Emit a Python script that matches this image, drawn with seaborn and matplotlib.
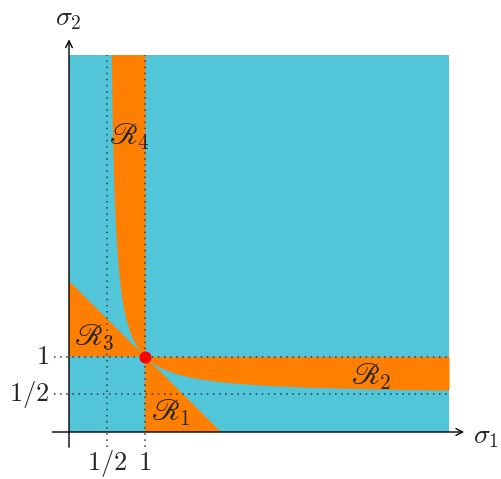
import numpy as np
import matplotlib
matplotlib.use("Agg")
import matplotlib.pyplot as plt
import seaborn as sns
import pandas as pd

sns.set_theme(style="white")
plt.rcParams["mathtext.fontset"] = "cm"
plt.rcParams["font.family"] = ["DejaVu Sans"]

# Domain of the (sigma1, sigma2) plane that is shown
extent = 5.0
# Reference levels marked with dotted guides
guide_values = [0.5, 1.0]
guide_labels = ["$1/2$", "$1$"]
# The critical point
critical_x = [1.0]
critical_y = [1.0]
# Region names
region_names = [r"$\mathscr{R}_1$", r"$\mathscr{R}_2$", r"$\mathscr{R}_3$", r"$\mathscr{R}_4$"]

cyan = "#52C5D8"
orange = "#FF8000"

fig = plt.figure(figsize=(5.01, 4.79), dpi=100)
ax = fig.add_axes([0, 0, 1, 1])
ax.set_xlim(-69 / 76, (501 - 69) / 76)
ax.set_ylim(-47 / 75.5, 432 / 75.5)
ax.axis("off")

# background square
ax.fill_between([0, extent], 0, extent, color=cyan, lw=0, zorder=1)

# R1: x >= 1, y >= 0, x + y <= 2
ax.fill([1, 2, 1], [0, 0, 1], color=orange, lw=0, zorder=2)
# R3: x >= 0, y >= 1, x + y <= 2
ax.fill([0, 1, 0], [1, 1, 2], color=orange, lw=0, zorder=2)
# R2: x >= 1, x/(2x-1) <= y <= 1
s = np.linspace(1, extent, 400)
ax.fill_between(s, s / (2 * s - 1), 1, color=orange, lw=0, zorder=2)
# R4: y >= 1, y/(2y-1) <= x <= 1
ax.fill_betweenx(s, s / (2 * s - 1), 1, color=orange, lw=0, zorder=2)

# dotted guides
for v in guide_values:
    ax.plot([v, v], [-0.2, extent], ls=(0, (1, 3)), color="#2a3d45", lw=1.1, zorder=3)
    ax.plot([-0.2, extent], [v, v], ls=(0, (1, 3)), color="#2a3d45", lw=1.1, zorder=3)

# axes with arrows
ax.annotate("", xy=(5.2, 0), xytext=(-0.22, 0),
            arrowprops=dict(arrowstyle="->", lw=1.0, color="black", shrinkA=0, shrinkB=0), zorder=4)
ax.annotate("", xy=(0, 5.2), xytext=(0, -0.2),
            arrowprops=dict(arrowstyle="->", lw=1.0, color="black", shrinkA=0, shrinkB=0), zorder=4)

# critical point
pts = pd.DataFrame({"s1": critical_x, "s2": critical_y})
sns.scatterplot(data=pts, x="s1", y="s2", color="#FF0000", s=75, edgecolor="#FF0000",
                linewidth=0, ax=ax, zorder=5)

fs = 19
ax.text(5.32, -0.146, r"$\sigma_1$", fontsize=20, ha="left", va="baseline")
ax.text(-0.18, 5.39, r"$\sigma_2$", fontsize=20, ha="left", va="baseline")
for v, lab in zip(guide_values, guide_labels):
    ax.text(v, -0.50, lab, fontsize=fs, ha="center", va="baseline")
    ax.text(-0.26, v, lab, fontsize=fs, ha="right", va="center")

rfs = 22
ax.text(1.34, 0.25, region_names[0], fontsize=rfs, ha="center", va="center", zorder=6)
ax.text(3.97, 0.73, region_names[1], fontsize=rfs, ha="center", va="center", zorder=6)
ax.text(0.33, 1.26, region_names[2], fontsize=rfs, ha="center", va="center", zorder=6)
ax.text(0.79, 3.91, region_names[3], fontsize=rfs, ha="center", va="center", zorder=6)

fig.savefig("out.png", dpi=100)
